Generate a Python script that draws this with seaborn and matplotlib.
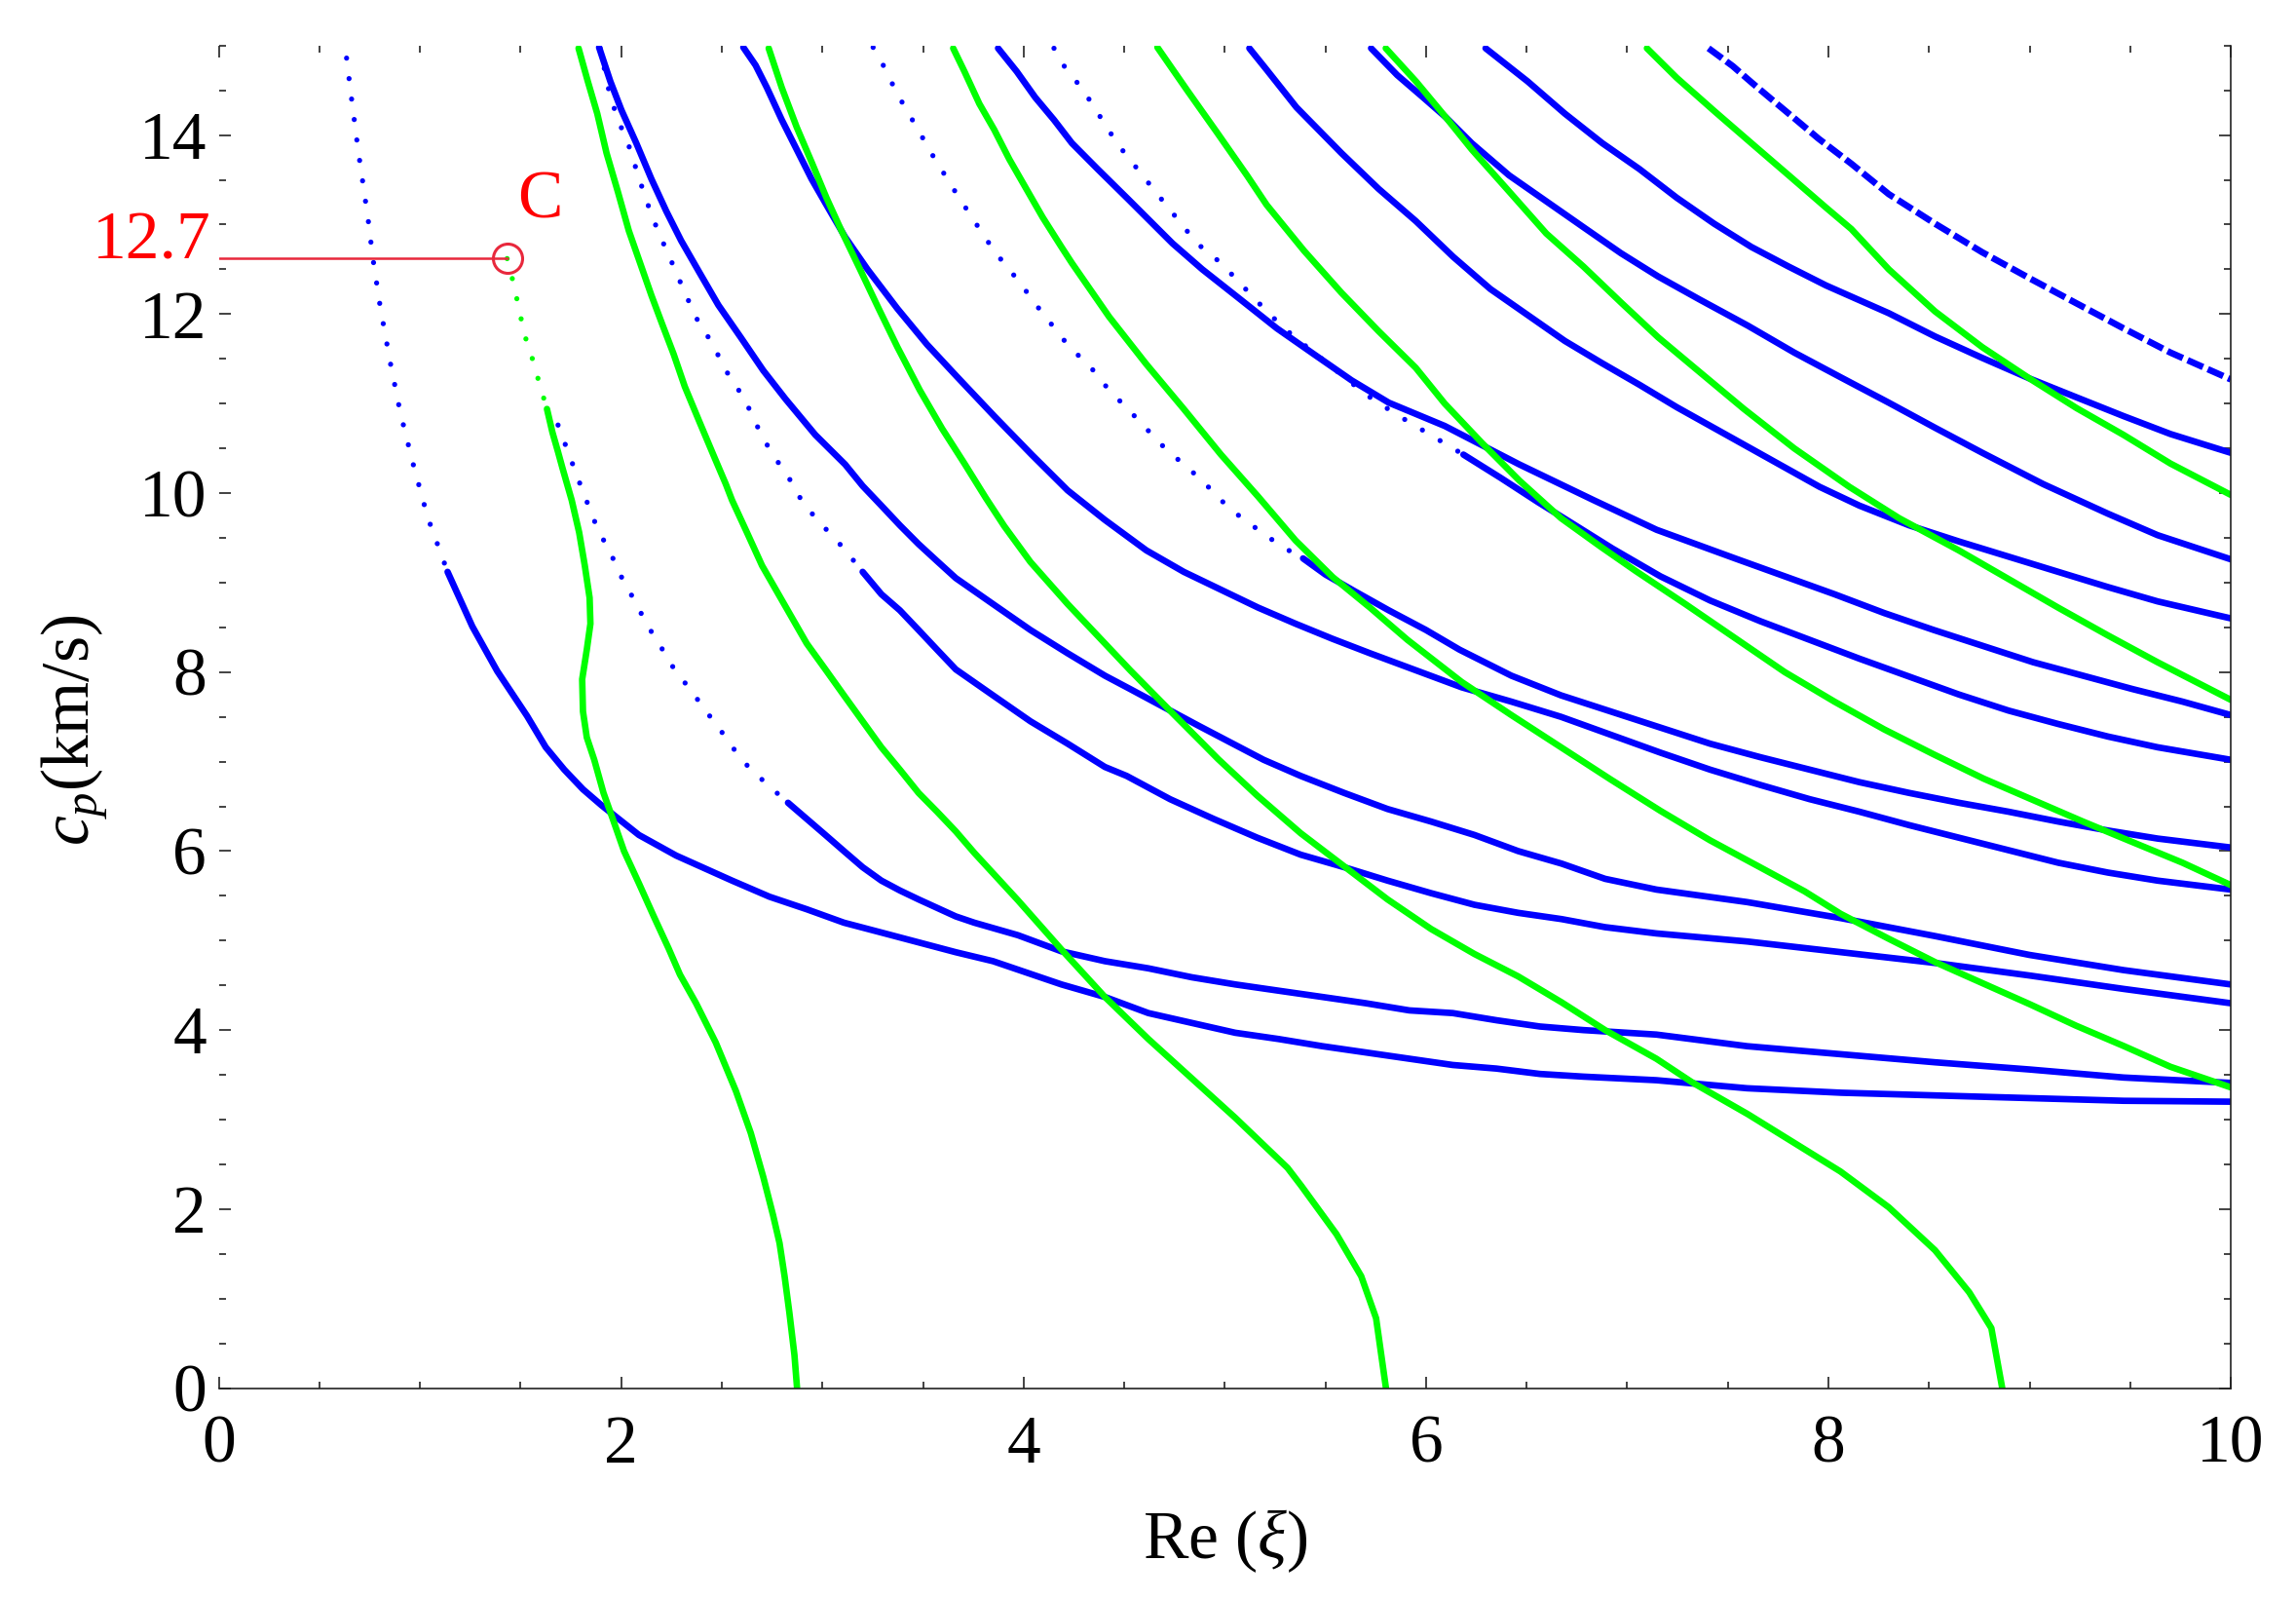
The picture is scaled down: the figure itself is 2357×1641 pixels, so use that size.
import matplotlib
matplotlib.use("Agg")
import matplotlib.pyplot as plt
from matplotlib.ticker import MultipleLocator
import seaborn as sns

# Branches: Re(xi) against c_p (km/s)
# blue branches
b1_x = [0.635, 0.655, 0.692, 0.742, 0.766, 0.803, 0.853, 0.902, 0.964, 1.038, 1.137, 1.26, 1.384, 1.532,
        1.625, 1.717, 1.81, 1.903, 2.088, 2.273, 2.551, 2.737, 2.922, 3.107, 3.293, 3.478, 3.663, 3.848,
        4.188, 4.404, 4.62, 4.836, 5.052, 5.268, 5.485, 5.701, 5.917, 6.133, 6.35, 6.566, 6.782, 7.145,
        7.596, 8.064, 8.531, 8.999, 9.467, 10.0]
b1_y = [14.86, 14.49, 13.84, 13.06, 12.62, 12.07, 11.45, 10.9, 10.34, 9.73, 9.12, 8.51, 8.01, 7.51,
        7.16, 6.91, 6.69, 6.51, 6.18, 5.95, 5.67, 5.49, 5.35, 5.2, 5.09, 4.98, 4.87, 4.77,
        4.51, 4.37, 4.19, 4.08, 3.97, 3.9, 3.82, 3.75, 3.68, 3.61, 3.57, 3.51, 3.48, 3.44,
        3.35, 3.3, 3.27, 3.24, 3.21, 3.2]

b2_x = [1.686, 1.804, 1.879, 1.955, 2.01, 2.069, 2.114, 2.158, 2.203, 2.275, 2.351, 2.41, 2.473, 2.542,
        2.625, 2.718, 2.829, 2.922, 3.015, 3.107, 3.2, 3.293, 3.385, 3.478, 3.663, 3.755, 3.972, 4.188,
        4.404, 4.62, 4.836, 5.052, 5.268, 5.485, 5.701, 5.917, 6.133, 6.35, 6.566, 6.782, 7.145, 7.596,
        8.064, 8.531, 8.999, 9.467, 10.0]
b2_y = [10.76, 10.05, 9.62, 9.29, 9.02, 8.79, 8.59, 8.42, 8.26, 7.99, 7.79, 7.59, 7.42, 7.19,
        6.96, 6.76, 6.54, 6.36, 6.18, 6.0, 5.82, 5.67, 5.56, 5.46, 5.27, 5.2, 5.06, 4.88,
        4.77, 4.69, 4.59, 4.51, 4.44, 4.37, 4.3, 4.22, 4.19, 4.11, 4.04, 4.0, 3.95, 3.82,
        3.73, 3.64, 3.56, 3.47, 3.41]

b3_x = [1.89, 1.946, 2.001, 2.075, 2.15, 2.224, 2.298, 2.39, 2.483, 2.594, 2.706, 2.817, 2.965, 3.113,
        3.2, 3.293, 3.385, 3.478, 3.57, 3.663, 3.848, 4.034, 4.219, 4.404, 4.53, 4.87, 5.193, 5.377,
        5.593, 5.809, 6.025, 6.241, 6.458, 6.674, 6.89, 7.145, 7.596, 8.064, 8.531, 8.999, 9.467, 10.0]
b3_y = [14.98, 14.6, 14.28, 13.91, 13.51, 13.15, 12.82, 12.46, 12.1, 11.74, 11.37, 11.05, 10.65, 10.32,
        10.08, 9.86, 9.64, 9.43, 9.24, 9.05, 8.76, 8.47, 8.21, 7.96, 7.81, 7.4, 7.02, 6.84,
        6.65, 6.47, 6.33, 6.18, 6.0, 5.86, 5.69, 5.57, 5.43, 5.25, 5.05, 4.84, 4.67, 4.51]

bd1_x = [1.895, 1.946, 1.992, 2.038, 2.094, 2.15, 2.196, 2.261, 2.316, 2.39, 2.446, 2.52, 2.613, 2.705,
         2.798, 2.854, 2.885, 2.959, 3.033, 3.107, 3.2, 3.293, 3.385, 3.478, 3.57, 3.663, 3.848, 4.034,
         4.219, 4.404, 4.512, 4.728, 4.944, 5.161, 5.377, 5.593, 5.809, 6.025, 6.241, 6.458, 6.674, 6.89,
         7.145, 7.596, 8.064, 8.531, 8.999, 9.467, 10.0]
bd1_y = [14.97, 14.42, 14.13, 13.88, 13.48, 13.11, 12.86, 12.53, 12.24, 11.88, 11.7, 11.37, 11.05, 10.61,
         10.28, 10.1, 9.96, 9.74, 9.56, 9.38, 9.12, 8.87, 8.69, 8.47, 8.25, 8.03, 7.74, 7.45,
         7.2, 6.94, 6.84, 6.58, 6.36, 6.15, 5.96, 5.82, 5.67, 5.53, 5.4, 5.31, 5.24, 5.15,
         5.08, 4.99, 4.87, 4.75, 4.61, 4.46, 4.30]

b4_x = [2.607, 2.668, 2.724, 2.798, 2.872, 2.946, 3.02, 3.113, 3.224, 3.373, 3.52, 3.669, 3.854, 4.04,
        4.219, 4.404, 4.61, 4.796, 4.981, 5.166, 5.352, 5.537, 5.722, 6.177, 6.424, 6.671, 6.918, 7.165,
        7.412, 7.66, 7.907, 8.154, 8.401, 8.648, 8.895, 9.142, 9.389, 9.636, 10.0]
b4_y = [14.98, 14.78, 14.53, 14.17, 13.84, 13.51, 13.22, 12.86, 12.5, 12.06, 11.66, 11.3, 10.86, 10.43,
        10.03, 9.7, 9.36, 9.12, 8.92, 8.72, 8.54, 8.37, 8.21, 7.83, 7.67, 7.5, 7.3, 7.1,
        6.91, 6.74, 6.58, 6.44, 6.29, 6.15, 6.01, 5.87, 5.76, 5.67, 5.57]

bd2_x = [3.252, 3.298, 3.372, 3.447, 3.549, 3.651, 3.743, 3.855, 3.975, 4.077, 4.225, 4.332, 4.425, 4.518,
         4.61, 4.703, 4.796, 4.888, 4.981, 5.074, 5.166, 5.278, 5.389, 5.5, 5.648, 5.815, 6.0, 6.167,
         6.424, 6.671, 6.918, 7.165, 7.412, 7.66, 7.907, 8.154, 8.401, 8.648, 8.895, 9.142, 9.389, 9.636, 10.0]
bd2_y = [14.98, 14.8, 14.46, 14.17, 13.77, 13.4, 13.08, 12.7, 12.37, 12.06, 11.64, 11.41, 11.15, 10.94,
         10.72, 10.5, 10.32, 10.14, 9.92, 9.74, 9.59, 9.41, 9.27, 9.09, 8.9, 8.69, 8.47, 8.25,
         7.96, 7.74, 7.56, 7.38, 7.2, 7.05, 6.91, 6.77, 6.65, 6.54, 6.44, 6.33, 6.23, 6.14, 6.04]

b5_x = [3.873, 3.966, 4.058, 4.151, 4.24, 4.368, 4.517, 4.74, 4.888, 5.074, 5.259, 5.444, 5.63, 5.815,
        6.093, 6.464, 6.834, 7.146, 7.536, 7.783, 8.03, 8.277, 8.524, 8.771, 9.018, 9.265, 9.512, 9.76, 10.0]
b5_y = [14.97, 14.71, 14.42, 14.17, 13.91, 13.62, 13.29, 12.79, 12.5, 12.17, 11.84, 11.55, 11.26, 11.01,
        10.75, 10.32, 9.92, 9.59, 9.27, 9.07, 8.87, 8.66, 8.47, 8.29, 8.11, 7.96, 7.81, 7.67, 7.52]

bd3_x = [4.151, 4.207, 4.294, 4.467, 4.665, 4.862, 4.981, 5.074, 5.166, 5.259, 5.352, 5.444, 5.537, 5.63,
         5.722, 5.852, 6.0, 6.186, 6.371, 6.556, 6.742, 6.927, 7.165, 7.412, 7.66, 7.907, 8.154, 8.401,
         8.648, 8.895, 9.142, 9.389, 9.636, 10.0]
bd3_y = [14.97, 14.75, 14.51, 13.9, 13.34, 12.79, 12.57, 12.35, 12.13, 11.92, 11.73, 11.57, 11.4, 11.23,
         11.07, 10.88, 10.68, 10.43, 10.17, 9.9, 9.64, 9.38, 9.07, 8.8, 8.57, 8.36, 8.15, 7.95,
         7.75, 7.57, 7.42, 7.28, 7.16, 7.02]

b6_x = [5.122, 5.208, 5.356, 5.579, 5.764, 5.949, 6.135, 6.32, 6.505, 6.69, 6.876, 7.061, 7.246, 7.956,
        8.154, 8.401, 8.648, 8.895, 9.142, 9.389, 9.636, 10.0]
b6_y = [14.97, 14.73, 14.31, 13.8, 13.4, 13.04, 12.64, 12.28, 11.99, 11.7, 11.45, 11.21, 10.96, 10.07,
        9.86, 9.64, 9.46, 9.29, 9.12, 8.95, 8.79, 8.6]

b7_x = [5.727, 5.857, 5.986, 6.098, 6.227, 6.413, 6.598, 6.783, 6.969, 7.154, 7.362, 7.6, 7.83, 8.064,
        8.3, 8.53, 8.765, 9.068, 9.389, 9.636, 10.0]
b7_y = [14.97, 14.67, 14.42, 14.2, 13.91, 13.55, 13.26, 12.97, 12.68, 12.42, 12.16, 11.87, 11.57, 11.29,
        11.01, 10.73, 10.45, 10.1, 9.77, 9.53, 9.26]

b8_x = [6.296, 6.505, 6.69, 6.876, 7.061, 7.246, 7.432, 7.617, 7.803, 7.988, 8.3, 8.53, 8.765, 9.0,
        9.233, 9.467, 9.7, 10.0]
b8_y = [14.97, 14.6, 14.24, 13.91, 13.62, 13.3, 13.01, 12.75, 12.53, 12.32, 12.01, 11.75, 11.51, 11.28,
        11.07, 10.86, 10.66, 10.45]

b9_x = [7.404, 7.525, 7.617, 7.728, 7.84, 7.951, 8.114, 8.3, 8.53, 8.765, 9.0, 9.233, 9.467, 9.7, 10.0]
b9_y = [14.97, 14.77, 14.59, 14.38, 14.17, 13.96, 13.68, 13.34, 13.01, 12.69, 12.4, 12.12, 11.84, 11.57, 11.27]

# green branches
gc_x = [1.433, 1.464, 1.492, 1.519, 1.547, 1.575, 1.603, 1.631, 1.658, 1.686, 1.708, 1.754, 1.791, 1.819,
        1.843, 1.847, 1.829, 1.806, 1.81, 1.829, 1.866, 1.912, 1.958, 2.014, 2.088, 2.162, 2.236, 2.292,
        2.372, 2.47, 2.57, 2.644, 2.706, 2.755, 2.787, 2.812, 2.836, 2.861, 2.874]
gc_y = [12.62, 12.35, 12.06, 11.77, 11.59, 11.37, 11.15, 10.94, 10.68, 10.46, 10.28, 9.92, 9.56, 9.19,
        8.83, 8.54, 8.25, 7.92, 7.56, 7.27, 7.02, 6.65, 6.36, 6.0, 5.64, 5.27, 4.91, 4.62,
        4.3, 3.86, 3.32, 2.85, 2.36, 1.93, 1.62, 1.25, 0.84, 0.37, 0.0]

g2_x = [1.788, 1.834, 1.881, 1.927, 1.983, 2.038, 2.094, 2.15, 2.205, 2.261, 2.316, 2.39, 2.465, 2.52,
        2.551, 2.625, 2.7, 2.774, 2.848, 2.922, 3.015, 3.107, 3.2, 3.293, 3.385, 3.478, 3.57, 3.663,
        3.755, 3.972, 4.188, 4.404, 4.62, 4.836, 5.052, 5.312, 5.38, 5.555, 5.678, 5.752, 5.801]
g2_y = [14.97, 14.6, 14.24, 13.8, 13.37, 12.93, 12.57, 12.21, 11.88, 11.55, 11.19, 10.79, 10.39, 10.1,
        9.92, 9.56, 9.19, 8.9, 8.61, 8.32, 8.03, 7.74, 7.45, 7.16, 6.91, 6.65, 6.44, 6.22,
        5.98, 5.45, 4.9, 4.37, 3.9, 3.46, 3.02, 2.46, 2.26, 1.72, 1.25, 0.78, 0.0]

g3_x = [2.733, 2.798, 2.872, 2.946, 3.02, 3.095, 3.187, 3.28, 3.373, 3.484, 3.595, 3.706, 3.811, 3.904,
        4.034, 4.219, 4.404, 4.53, 4.714, 4.887, 4.966, 5.161, 5.377, 5.593, 5.809, 6.025, 6.241, 6.458,
        6.674, 6.89, 7.145, 7.32, 7.6, 7.83, 8.06, 8.3, 8.53, 8.7, 8.81, 8.864]
g3_y = [14.97, 14.53, 14.09, 13.7, 13.3, 12.93, 12.5, 12.06, 11.63, 11.15, 10.72, 10.33, 9.95, 9.63,
        9.23, 8.76, 8.32, 8.02, 7.6, 7.21, 7.03, 6.62, 6.2, 5.83, 5.46, 5.13, 4.85, 4.6,
        4.31, 4.0, 3.68, 3.42, 3.06, 2.74, 2.42, 2.02, 1.54, 1.07, 0.67, 0.0]

g4_x = [3.65, 3.706, 3.78, 3.854, 3.929, 4.003, 4.095, 4.188, 4.24, 4.425, 4.61, 4.796, 4.981, 5.166,
        5.352, 5.537, 5.722, 5.908, 6.177, 6.424, 6.671, 6.918, 7.165, 7.412, 7.66, 7.882, 8.06, 8.3,
        8.53, 8.77, 9.0, 9.23, 9.47, 9.7, 10.0]
g4_y = [14.97, 14.71, 14.35, 14.06, 13.73, 13.44, 13.08, 12.75, 12.57, 11.97, 11.44, 10.94, 10.43, 9.96,
        9.47, 9.06, 8.72, 8.36, 7.89, 7.52, 7.16, 6.8, 6.45, 6.12, 5.82, 5.55, 5.3, 5.02,
        4.76, 4.52, 4.29, 4.05, 3.82, 3.59, 3.36]

g5_x = [4.665, 4.813, 4.961, 5.11, 5.208, 5.393, 5.579, 5.764, 5.949, 6.093, 6.278, 6.464, 6.671, 6.869,
        7.042, 7.289, 7.536, 7.783, 8.03, 8.277, 8.524, 8.771, 9.018, 9.265, 9.512, 9.76, 10.0]
g5_y = [14.98, 14.5, 14.03, 13.55, 13.22, 12.71, 12.24, 11.81, 11.4, 11.0, 10.56, 10.14, 9.72, 9.4,
        9.13, 8.76, 8.38, 8.0, 7.67, 7.36, 7.08, 6.81, 6.57, 6.33, 6.1, 5.87, 5.62]

g6_x = [5.8, 5.95, 6.098, 6.227, 6.413, 6.598, 6.783, 6.969, 7.154, 7.34, 7.58, 7.83, 8.104, 8.351,
        8.648, 8.895, 9.142, 9.389, 9.636, 10.0]
g6_y = [14.97, 14.6, 14.2, 13.84, 13.37, 12.9, 12.53, 12.13, 11.74, 11.39, 10.94, 10.5, 10.07, 9.72,
        9.36, 9.04, 8.72, 8.41, 8.11, 7.69]

g7_x = [7.098, 7.246, 7.432, 7.617, 7.803, 7.988, 8.114, 8.3, 8.53, 8.765, 9.0, 9.233, 9.467, 9.7, 10.0]
g7_y = [14.97, 14.64, 14.27, 13.91, 13.55, 13.19, 12.95, 12.5, 12.03, 11.63, 11.28, 10.95, 10.65, 10.33, 9.98]

# marked point C
c_x = 1.433
c_y = 12.62
c_label = '12.7'

x_ticks = [0, 2, 4, 6, 8, 10]
y_ticks = [0, 2, 4, 6, 8, 10, 12, 14]

BLUE = '#0000ff'
GREEN = '#00ff00'
RED = '#e8283c'

# (x, y, colour, number of leading points drawn as sparse dots, style of the rest)
branches = [
    (b1_x, b1_y, BLUE, 11, 'solid'),
    (b2_x, b2_y, BLUE, 17, 'solid'),
    (b3_x, b3_y, BLUE, 0, 'solid'),
    (bd1_x, bd1_y, BLUE, 21, 'solid'),
    (b4_x, b4_y, BLUE, 0, 'solid'),
    (bd2_x, bd2_y, BLUE, 23, 'solid'),
    (b5_x, b5_y, BLUE, 0, 'solid'),
    (bd3_x, bd3_y, BLUE, 18, 'solid'),
    (b6_x, b6_y, BLUE, 0, 'solid'),
    (b7_x, b7_y, BLUE, 0, 'solid'),
    (b8_x, b8_y, BLUE, 0, 'solid'),
    (b9_x, b9_y, BLUE, 0, 'dashed'),
    (gc_x, gc_y, GREEN, 8, 'solid'),
    (g2_x, g2_y, GREEN, 0, 'solid'),
    (g3_x, g3_y, GREEN, 0, 'solid'),
    (g4_x, g4_y, GREEN, 0, 'solid'),
    (g5_x, g5_y, GREEN, 0, 'solid'),
    (g6_x, g6_y, GREEN, 0, 'solid'),
    (g7_x, g7_y, GREEN, 0, 'solid'),
]


def main():
    sns.set_style('ticks')
    plt.rcParams['font.family'] = 'serif'
    plt.rcParams['font.serif'] = ['Liberation Serif', 'DejaVu Serif']
    plt.rcParams['mathtext.fontset'] = 'custom'
    plt.rcParams['mathtext.rm'] = 'Liberation Serif'
    plt.rcParams['mathtext.it'] = 'Liberation Serif:italic'
    plt.rcParams['text.color'] = 'black'
    plt.rcParams['axes.labelcolor'] = 'black'
    plt.rcParams['xtick.labelcolor'] = 'black'
    plt.rcParams['ytick.labelcolor'] = 'black'

    fig = plt.figure(figsize=(2357 / 200, 1641 / 200), dpi=200)
    ax = fig.add_axes([0.0953, 0.1319, 0.8763, 0.8396])

    dotted = (0, (0.01, 4.0))
    dashed = (0, (2.6, 0.8))
    lw = 2.4
    lw_dot = 1.9
    for bx, by, col, n_dot, rest in branches:
        start = 0
        if n_dot > 1:
            sns.lineplot(x=bx[:n_dot], y=by[:n_dot], ax=ax, color=col, linewidth=lw_dot,
                         linestyle=dotted, dash_capstyle='round', estimator=None, sort=False)
            start = n_dot - 1
        ls = dashed if rest == 'dashed' else '-'
        sns.lineplot(x=bx[start:], y=by[start:], ax=ax, color=col, linewidth=lw,
                     linestyle=ls, solid_capstyle='round', solid_joinstyle='round',
                     estimator=None, sort=False)

    # marker for point C
    ax.plot([0, c_x], [c_y, c_y], color=RED, linewidth=0.9, zorder=5)
    ax.plot([c_x], [c_y], marker='o', markersize=10.8, markerfacecolor='none',
            markeredgecolor=RED, markeredgewidth=1.1, linestyle='none', zorder=5)
    ax.text(c_x + 0.162, c_y + 0.46, 'C', color='red', fontsize=25, ha='center', va='baseline')
    ax.text(-0.04, c_y, c_label, color='red', fontsize=25, ha='right', va='baseline', clip_on=False)

    ax.set_xlim(0, 10)
    ax.set_ylim(0, 15)
    ax.set_xticks(x_ticks)
    ax.set_yticks(y_ticks)
    ax.xaxis.set_minor_locator(MultipleLocator(0.5))
    ax.yaxis.set_minor_locator(MultipleLocator(0.5))
    ax.tick_params(which='both', direction='in', top=True, right=True, bottom=True, left=True,
                   color='#222222', width=0.6)
    ax.tick_params(which='major', length=4.3)
    ax.tick_params(which='minor', length=2.6)
    ax.tick_params(axis='x', labelsize=25, pad=10, labelcolor='black')
    ax.tick_params(axis='y', labelsize=25, pad=4.5, labelcolor='black')

    for side in ['top', 'left']:
        ax.spines[side].set_visible(False)
    for side in ['bottom', 'right']:
        ax.spines[side].set_linewidth(0.6)
        ax.spines[side].set_color('#222222')

    ax.set_xlabel(r'Re ($\xi$)', fontsize=25, color='black')
    ax.set_ylabel(r'$c_p$(km/s)', fontsize=25, color='black')
    ax.xaxis.set_label_coords(0.5, -0.089)
    ax.yaxis.set_label_coords(-0.054, 0.49)

    fig.savefig('out.png', dpi=200)


if __name__ == '__main__':
    main()
